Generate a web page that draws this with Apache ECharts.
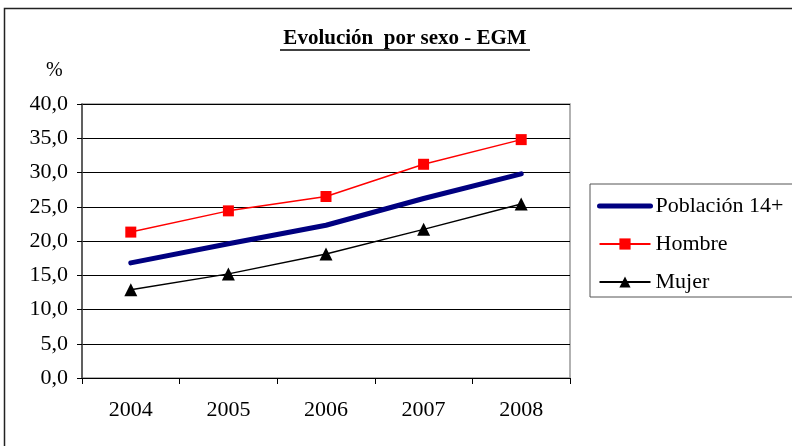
<!DOCTYPE html>
<html>
<head>
<meta charset="utf-8">
<script src="https://cdn.jsdelivr.net/npm/echarts@6/dist/echarts.min.js"></script>
<style>
  html, body { margin: 0; padding: 0; background: #fff; }
  #chart { width: 792px; height: 446px; }
</style>
</head>
<body>
<div id="chart"></div>
<script>
// datos
const years = ['2004', '2005', '2006', '2007', '2008'];
const poblacion = [16.8, 19.6, 22.3, 26.2, 29.8];
const hombre = [21.3, 24.4, 26.5, 31.2, 34.8];
const mujer = [12.9, 15.2, 18.1, 21.7, 25.4];

const serif = '"Liberation Serif", "DejaVu Serif", serif';

const chart = echarts.init(document.getElementById('chart'));

chart.setOption({
  animation: false,
  backgroundColor: '#fff',
  textStyle: { fontFamily: serif },
  graphic: [
    // marco exterior
    {
      type: 'rect',
      shape: { x: 4.5, y: 8.5, width: 800, height: 450 },
      style: { fill: 'none', stroke: '#222', lineWidth: 1.5 },
      silent: true
    },
    {
      type: 'text',
      x: 405,
      y: 28,
      style: {
        text: 'Evolución  por sexo - EGM',
        font: 'bold 21px ' + serif,
        fill: '#000',
        align: 'center'
      }
    },
    {
      type: 'line',
      shape: { x1: 280, y1: 50, x2: 530, y2: 50 },
      style: { stroke: '#000', lineWidth: 1.5 }
    },
    {
      type: 'text',
      left: 46,
      top: 61,
      style: { text: '%', font: '20px ' + serif, fill: '#000' }
    }
  ],
  grid: {
    left: 82,
    top: 104,
    width: 488,
    height: 274,
    show: true,
    borderColor: '#999',
    borderWidth: 1.5
  },
  legend: {
    orient: 'vertical',
    left: 590,
    top: 184,
    itemWidth: 51,
    itemHeight: 14,
    itemGap: 16,
    padding: [11, 30, 4, 7],
    borderColor: '#555',
    borderWidth: 1,
    textStyle: { fontFamily: serif, fontSize: 22, color: '#000' },
    data: [
      { name: 'Población 14+', itemStyle: { opacity: 0 }, lineStyle: { width: 5 } },
      'Hombre',
      'Mujer'
    ]
  },
  xAxis: {
    type: 'category',
    data: years,
    boundaryGap: true,
    axisLine: { lineStyle: { color: '#000', width: 1 } },
    axisTick: { show: true, interval: 0, length: 6, lineStyle: { color: '#000' } },
    axisLabel: { fontFamily: serif, fontSize: 22, color: '#000', margin: 21 },
    splitLine: { show: false }
  },
  yAxis: {
    type: 'value',
    min: 0,
    max: 40,
    interval: 5,
    axisLine: { show: true, lineStyle: { color: '#444', width: 1.5 } },
    axisTick: { show: true, length: 5, lineStyle: { color: '#000' } },
    axisLabel: {
      fontFamily: serif,
      fontSize: 22,
      color: '#000',
      margin: 14,
      formatter: v => v.toFixed(1).replace('.', ',')
    },
    splitLine: { lineStyle: { color: '#000', width: 1 } }
  },
  series: [
    {
      name: 'Población 14+',
      type: 'line',
      data: poblacion,
      symbol: 'none',
      lineStyle: { color: '#000080', width: 5, cap: 'round' },
      itemStyle: { color: '#000080' }
    },
    {
      name: 'Hombre',
      type: 'line',
      data: hombre,
      symbol: 'rect',
      symbolSize: 11,
      lineStyle: { color: '#ff0000', width: 1.5 },
      itemStyle: { color: '#ff0000' }
    },
    {
      name: 'Mujer',
      type: 'line',
      data: mujer,
      symbol: 'triangle',
      symbolSize: 13,
      lineStyle: { color: '#000', width: 1.5 },
      itemStyle: { color: '#000' }
    }
  ]
});
</script>
</body>
</html>
